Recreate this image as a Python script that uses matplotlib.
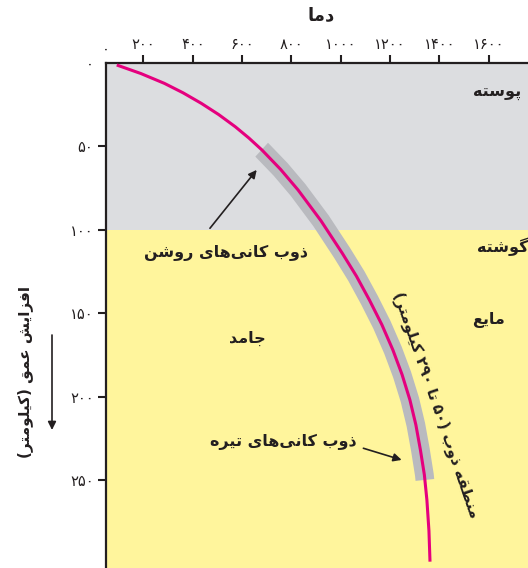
import matplotlib
matplotlib.use("Agg")
import matplotlib.pyplot as plt
import numpy as np

# ---------------- data ----------------
temp_ticks = [200, 400, 600, 800, 1000, 1200, 1400, 1600]
temp_tick_labels = ["۲۰۰", "۴۰۰", "۶۰۰", "۸۰۰", "۱۰۰۰", "۱۲۰۰", "۱۴۰۰", "۱۶۰۰"]
depth_ticks = [0, 50, 100, 150, 200, 250]
depth_tick_labels = ["۰", "۵۰", "۱۰۰", "۱۵۰", "۲۰۰", "۲۵۰"]

geotherm_temp = [92.2, 189.7, 285.1, 361.3, 435.1, 505.2, 572.5, 628.0, 681.1,
                 756.5, 827.0, 920.1, 1005.8, 1063.8, 1116.4, 1166.9, 1211.7,
                 1249.0, 1280.6, 1304.7, 1323.2, 1339.2, 1349.5, 1357.8, 1362.1]
geotherm_depth = [1.2, 6.3, 12.2, 17.9, 24.2, 30.9, 38.2, 45.0, 52.2,
                  63.8, 76.1, 94.6, 113.9, 127.8, 142.1, 156.9, 172.1,
                  186.9, 202.0, 216.9, 232.0, 246.9, 262.0, 280.5, 299.0]
crust_depth = 100
melt_zone_depth = [52, 250]

title_text = "دما"
ylabel_text = "افزایش عمق (کیلومتر)"
crust_text = "پوسته"
mantle_text = "گوشته"
liquid_text = "مایع"
solid_text = "جامد"
light_melt_text = "ذوب کانی‌های روشن"
dark_melt_text = "ذوب کانی‌های تیره"
zone_text = "منطقه ذوب (۵۰ تا ۲۹۰ کیلومتر)"

# ---------------- minimal Persian shaping ----------------
FORMS = {
    "ا": ("\uFE8D", "\uFE8E", None, None),
    "ب": ("\uFE8F", "\uFE90", "\uFE91", "\uFE92"),
    "ت": ("\uFE95", "\uFE96", "\uFE97", "\uFE98"),
    "ج": ("\uFE9D", "\uFE9E", "\uFE9F", "\uFEA0"),
    "د": ("\uFEA9", "\uFEAA", None, None),
    "ذ": ("\uFEAB", "\uFEAC", None, None),
    "ر": ("\uFEAD", "\uFEAE", None, None),
    "ز": ("\uFEAF", "\uFEB0", None, None),
    "س": ("\uFEB1", "\uFEB2", "\uFEB3", "\uFEB4"),
    "ش": ("\uFEB5", "\uFEB6", "\uFEB7", "\uFEB8"),
    "ط": ("\uFEC1", "\uFEC2", "\uFEC3", "\uFEC4"),
    "ع": ("\uFEC9", "\uFECA", "\uFECB", "\uFECC"),
    "ف": ("\uFED1", "\uFED2", "\uFED3", "\uFED4"),
    "ق": ("\uFED5", "\uFED6", "\uFED7", "\uFED8"),
    "ل": ("\uFEDD", "\uFEDE", "\uFEDF", "\uFEE0"),
    "م": ("\uFEE1", "\uFEE2", "\uFEE3", "\uFEE4"),
    "ن": ("\uFEE5", "\uFEE6", "\uFEE7", "\uFEE8"),
    "ه": ("\uFEE9", "\uFEEA", "\uFEEB", "\uFEEC"),
    "و": ("\uFEED", "\uFEEE", None, None),
    "پ": ("\uFB56", "\uFB57", "\uFB58", "\uFB59"),
    "ک": ("\uFB8E", "\uFB8F", "\uFB90", "\uFB91"),
    "گ": ("\uFB92", "\uFB93", "\uFB94", "\uFB95"),
    "ی": ("\uFBFC", "\uFBFD", "\uFBFE", "\uFBFF"),
}
DIGITS = set("۰۱۲۳۴۵۶۷۸۹0123456789")


def shape(text):
    chars = list(text)
    shaped = []
    for i, c in enumerate(chars):
        if c == "\u200c":
            continue
        if c not in FORMS:
            shaped.append(c)
            continue
        prev = chars[i - 1] if i > 0 else None
        nxt = chars[i + 1] if i + 1 < len(chars) else None
        pj = prev in FORMS and FORMS[prev][2] is not None
        nj = FORMS[c][2] is not None and nxt in FORMS
        iso, fin, ini, med = FORMS[c]
        if pj and nj:
            shaped.append(med)
        elif pj:
            shaped.append(fin)
        elif nj:
            shaped.append(ini)
        else:
            shaped.append(iso)
    tokens = []
    for c in shaped:
        if c in DIGITS and tokens and tokens[-1][0] in DIGITS:
            tokens[-1] += c
        else:
            tokens.append(c)
    tokens = tokens[::-1]
    mirror = {"(": ")", ")": "("}
    return "".join(mirror.get(t, t) for t in tokens)


plt.rcParams["font.family"] = ["DejaVu Sans"]

TXT = "#231f20"
GREY = "#dcdde0"
YELLOW = "#fff59c"
BAND = "#b9babf"
MAGENTA = "#e5007e"

fig = plt.figure(figsize=(5.28, 5.68), dpi=100)
W, H = 528, 568
ax = fig.add_axes([106 / W, 0, (540 - 106) / W, (H - 63) / H])
ax.set_xlim(48.6, 1808)
ax.set_ylim(302.8, 0)

ax.axhspan(0, crust_depth, color=GREY, lw=0, zorder=0)
ax.axhspan(crust_depth, 400, color=YELLOW, lw=0, zorder=0)

gt = np.array(geotherm_temp, float)
gd = np.array(geotherm_depth, float)
m = (gd > melt_zone_depth[0]) & (gd < melt_zone_depth[1])
bd = np.concatenate([[melt_zone_depth[0]], gd[m], [melt_zone_depth[1]]])
bt = np.interp(bd, gd, gt)
ax.plot(bt, bd, color=BAND, lw=13.5, solid_capstyle="butt",
        solid_joinstyle="round", zorder=2)
ax.plot(gt, gd, color=MAGENTA, lw=2.2, zorder=3, solid_capstyle="butt",
        solid_joinstyle="round")

for s in ["bottom", "right"]:
    ax.spines[s].set_visible(False)
for s in ["top", "left"]:
    ax.spines[s].set_color(TXT)
    ax.spines[s].set_linewidth(1.6)
ax.xaxis.tick_top()
ax.set_xticks(temp_ticks)
ax.set_xticklabels(temp_tick_labels)
ax.set_yticks(depth_ticks)
ax.set_yticklabels(depth_tick_labels)
ax.tick_params(axis="x", direction="out", length=6, width=1.5, color=TXT,
               labelsize=10.5, labelcolor=TXT, pad=2)
ax.tick_params(axis="y", direction="out", length=6, width=1.5, color=TXT,
               labelsize=10.5, labelcolor=TXT, pad=3)
ax.yaxis.get_major_ticks()[0].tick1line.set_visible(False)

# corner zero of the temperature axis
ax.text(48.6, -8, "۰", ha="center", va="center", fontsize=10.5, color=TXT)

fs = 11.5
bold = dict(fontweight="bold", color=TXT, fontsize=fs)
fig.text(321 / W, 1 - 15 / H, shape(title_text), ha="center", va="center",
         fontweight="bold", color=TXT, fontsize=13)
ax.text(1634, 18, shape(crust_text), ha="center", va="center", **bold)
ax.text(1552, 110.3, shape(mantle_text), ha="left", va="center", **bold)
ax.text(1601, 154, shape(liquid_text), ha="center", va="center", **bold)
ax.text(622, 165, shape(solid_text), ha="center", va="center", **bold)
ax.text(535, 114, shape(light_melt_text), ha="center", va="center", **bold)
ax.text(766, 227.5, shape(dark_melt_text), ha="center", va="center", **bold)
ax.text(1389, 205, shape(zone_text), ha="center", va="center", rotation=-71,
        rotation_mode="anchor", fontweight="bold", color=TXT, fontsize=11)

arrow = dict(arrowstyle="-|>", color=TXT, lw=1.2, mutation_scale=12,
             shrinkA=0, shrinkB=0)
ax.annotate("", xy=(659.5, 64.1), xytext=(470, 99.1), arrowprops=arrow, zorder=5)
ax.annotate("", xy=(1247, 238), xytext=(1092, 231), arrowprops=arrow, zorder=5)

fig.text(25 / W, 1 - 372 / H, shape(ylabel_text), rotation=90, ha="center",
         va="center", fontweight="bold", color=TXT, fontsize=11)
fig.patches.append(matplotlib.patches.FancyArrowPatch(
    (52 / W, 1 - 335 / H), (52 / W, 1 - 430 / H), transform=fig.transFigure,
    arrowstyle="-|>", color=TXT, lw=1.2, mutation_scale=12,
    shrinkA=0, shrinkB=0))

fig.savefig("out.png", dpi=100)
